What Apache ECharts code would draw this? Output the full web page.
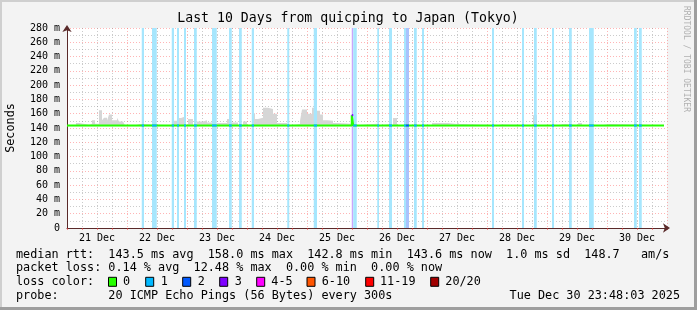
<!DOCTYPE html>
<html><head><meta charset="utf-8">
<script src="https://cdn.jsdelivr.net/npm/echarts@6/dist/echarts.min.js"></script>
<style>html,body{margin:0;padding:0;background:#f3f3f3}#c{width:697px;height:310px}</style>
</head><body><div id="c"></div>
<script>
// ---- data (x = hours since 21 Dec 00:00) ----
const dayLabels = ['21 Dec','22 Dec','23 Dec','24 Dec','25 Dec','26 Dec','27 Dec','28 Dec','29 Dec','30 Dec'];
const yMin = 0, yMax = 280;
// loss events: start hour, end hour, lost pings (of 20)
const bandStart = [29.9,34.0,41.9,44.0,46.8,50.8,58.0,64.8,68.8,73.9,88.1,98.7,113.9,114.5,124.1,128.8,134.8,135.6,138.8,142.0,170.0,182.0,186.8,194.0,200.8,208.8,226.8,228.8];
const bandEnd   = [30.8,35.9,42.8,44.8,47.6,51.9,59.9,65.9,69.9,74.8,88.9,100.0,114.5,115.9,124.8,130.0,135.6,136.8,139.9,142.8,170.8,182.8,187.9,194.8,201.9,210.7,227.9,229.9];
const bandLoss  = [1,1,1,1,1,1,1,1,1,1,1,1,3,1,1,1,1,2,1,1,1,1,1,1,1,1,1,1];
// smoke envelope (upper edge, ms), step segments starting at smokeHours
const smokeHours = [0,3.6,4.8,8.8,10,11.2,12.8,14,14.8,16,16.8,18,20,20.8,22.4,23.2,27.2,29.2,42,44,45.6,47.2,48.4,50.4,52,54.4,56,58,60,64,65.2,68.4,70.4,72,74,75.2,76.4,78.4,80.4,82.4,84,88,89.2,93.2,94,96,98,100,101.2,102.4,104,106.4,108.4,113.6,115.6,124,125.2,129.2,130.4,132,146,152.4,156,156.8,158.4,172,174,186.4,188,196,199.2,204.4,206,214,217.2,238.8];
const smokeTop   = [144,147,144.5,146,151,146,165,151,154.5,150,159,151,154.5,149,151,144,145.6,144,150,154,156,144,152.6,144,149,151,147.6,144,147,152.6,147.6,144,149,144,160.5,152.6,154.5,168.5,166.6,160,147,144,145.6,150,166,160,168.5,164,159,151,150,147,146,144,146,144,145.6,144,154,144,147,145.6,150,145.6,144,145,144,158,144,145.6,144,147,144,145.6,144,144];
const smokeBottom = 142.5;
// median rtt (ms), step segments
const medianHours  = [0,40,93.6,94.4,113.9,114.5,130.6,131.4,180,238.8];
const medianValues = [143.5,143.4,141.8,143.5,158,143.5,141.5,143.5,143.4,143.4];
// legend
const lossLabels = ['0','1','2','3','4-5','6-10','11-19','20/20'];
const lossColors = ['#26ff00','#00b8ff','#0059ff','#7e00ff','#ff00ff','#ff5500','#ff0000','#a10000'];
const bandColors = {1:'#a6e6fd',2:'#a9c2fd',3:'#c9a6fb'};
const statLine1 = 'median rtt:  143.5 ms avg  158.0 ms max  142.8 ms min  143.6 ms now  1.0 ms sd  148.7   am/s';
const statLine2 = 'packet loss: 0.14 % avg  12.48 % max  0.00 % min  0.00 % now';
const statLine3 = 'loss color:';
const statLine4 = 'probe:       20 ICMP Echo Pings (56 Bytes) every 300s';
const dateText = 'Tue Dec 30 23:48:03 2025';
const titleText = 'Last 10 Days from quicping to Japan (Tokyo)';

// ---- build ----
const MONO = 'DejaVu Sans Mono';
function medianAt(h){ let v = medianValues[0]; for (let i=0;i<medianHours.length;i++){ if (medianHours[i] <= h) v = medianValues[i]; } return v; }
const smokeData = smokeHours.map((h,i)=>[h, smokeTop[i]]);
const medianData = medianHours.map((h,i)=>[h, medianValues[i]]);
const bands = bandStart.map((s,i)=>[s, bandEnd[i], bandLoss[i]]);
function overlay(level){
  const d = [];
  bands.forEach(b=>{
    if (b[2] !== level) return;
    d.push([b[0], medianAt(b[0])]);
    medianHours.forEach((h,i)=>{ if (h>b[0] && h<b[1]) d.push([h, medianValues[i]]); });
    d.push([b[1], medianAt(b[1]-1e-6)]);
    d.push([b[1], null]);
  });
  return d;
}
const gridRed = 'rgba(255,60,60,0.38)';
const gridGray = 'rgba(140,140,140,0.45)';
const chart = echarts.init(document.getElementById('c'), null, {renderer:'canvas'});
const graphics = [
  {type:'rect', shape:{x:0,y:0,width:697,height:310}, style:{fill:'#f3f3f3'}, z:-10},
  {type:'rect', shape:{x:0,y:0,width:697,height:2}, style:{fill:'#cfcfcf'}, z:-9},
  {type:'rect', shape:{x:0,y:0,width:2,height:310}, style:{fill:'#cfcfcf'}, z:-9},
  {type:'rect', shape:{x:0,y:307,width:697,height:3}, style:{fill:'#9e9e9e'}, z:-9},
  {type:'rect', shape:{x:694,y:0,width:3,height:310}, style:{fill:'#9e9e9e'}, z:-9},
  {type:'text', style:{text:titleText, x:348, y:19, textAlign:'center', textVerticalAlign:'middle', font:'13.2px "'+MONO+'"', fill:'#000'}},
  {type:'text', rotation:Math.PI/2, x:11, y:128, style:{text:'Seconds', x:0, y:0, textAlign:'center', textVerticalAlign:'middle', font:'11.8px "'+MONO+'"', fill:'#000'}},
  {type:'text', rotation:-Math.PI/2, x:686, y:59, style:{text:'RRDTOOL / TOBI OETIKER', x:0, y:0, textAlign:'center', textVerticalAlign:'middle', font:'8px "'+MONO+'"', fill:'#b0b0b0'}},
  {type:'text', style:{text:statLine1, x:16, y:254.5, textVerticalAlign:'middle', font:'11.8px "'+MONO+'"', fill:'#000'}},
  {type:'text', style:{text:statLine2, x:16, y:268.3, textVerticalAlign:'middle', font:'11.8px "'+MONO+'"', fill:'#000'}},
  {type:'text', style:{text:statLine3, x:16, y:281.8, textVerticalAlign:'middle', font:'11.8px "'+MONO+'"', fill:'#000'}},
  {type:'text', style:{text:statLine4, x:16, y:296, textVerticalAlign:'middle', font:'11.8px "'+MONO+'"', fill:'#000'}},
  {type:'text', style:{text:dateText, x:680, y:296, textAlign:'right', textVerticalAlign:'middle', font:'11.8px "'+MONO+'"', fill:'#000'}}
];
const sqX = [108.5,145.7,182.7,219.7,256.7,307,365.7,430.7];
const lblX = [123,160.7,197.7,234.7,271.3,321.7,380,445.3];
lossLabels.forEach((l,i)=>{
  graphics.push({type:'rect', shape:{x:sqX[i], y:277.3, width:8, height:9}, style:{fill:lossColors[i], stroke:'#000', lineWidth:1}});
  graphics.push({type:'text', style:{text:l, x:lblX[i], y:281.8, textVerticalAlign:'middle', font:'11.8px "'+MONO+'"', fill:'#000'}});
});

const option = {
  animation:false,
  backgroundColor:'#f3f3f3',
  grid:{left:67, top:28, width:600, height:200, show:true, backgroundColor:'#ffffff', borderWidth:0},
  xAxis:{type:'value', min:0, max:240, interval:6,
    axisLine:{show:true, onZero:false, lineStyle:{color:'#5a2a2a', width:1}, symbol:['none','arrow'], symbolSize:[7,7], symbolOffset:[0,3]},
    axisTick:{show:true, length:2, inside:false, lineStyle:{color:'rgba(255,60,60,0.6)'}},
    axisLabel:{show:true, margin:5, fontFamily:MONO, fontSize:10, color:'#000', showMinLabel:true, showMaxLabel:true,
      formatter:v=> (v % 24 === 12) ? dayLabels[(v-12)/24] : ''},
    splitLine:{show:true, lineStyle:{color:[gridRed,gridGray,gridGray,gridGray], type:[1,2], width:1}}},
  yAxis:{type:'value', min:yMin, max:yMax, interval:10,
    axisLine:{show:true, onZero:false, lineStyle:{color:'#5a2a2a', width:1}, symbol:['none','arrow'], symbolSize:[7,7], symbolOffset:[0,3]},
    axisTick:{show:false},
    axisLabel:{margin:7, fontFamily:MONO, fontSize:10, color:'#000', formatter:v=> v===0 ? '0' : (v % 20 === 0 ? v+' m' : '')},
    splitLine:{show:true, lineStyle:{color:[gridRed,gridGray], type:[1,2], width:1}}},
  graphic:graphics,
  series:[
    {type:'line', name:'smoke', data:smokeData, step:'end', symbol:'none', z:1,
      lineStyle:{width:0, opacity:0}, areaStyle:{color:'#d6d6d6', opacity:1, origin:smokeBottom}},
    {type:'custom', name:'loss', data:bands, z:2, clip:true, encode:{x:[0,1]},
      renderItem:(p, api)=>{
        const a = api.coord([api.value(0), yMax]);
        const b = api.coord([api.value(1), yMin]);
        return {type:'rect', shape:{x:a[0], y:a[1], width:b[0]-a[0], height:b[1]-a[1]}, style:{fill:bandColors[api.value(2)]}};
      }},
    {type:'line', name:'median', data:medianData, step:'end', symbol:'none', z:3,
      lineStyle:{color:lossColors[0], width:2}},
    {type:'line', name:'loss1', data:overlay(1), step:'end', symbol:'none', z:4, connectNulls:false, lineStyle:{color:lossColors[1], width:2}},
    {type:'line', name:'loss2', data:overlay(2), step:'end', symbol:'none', z:4, connectNulls:false, lineStyle:{color:lossColors[2], width:2}},
    {type:'line', name:'loss3', data:overlay(3), step:'end', symbol:'none', z:4, connectNulls:false, lineStyle:{color:lossColors[3], width:2}}
  ]
};
chart.setOption(option);
</script></body></html>
